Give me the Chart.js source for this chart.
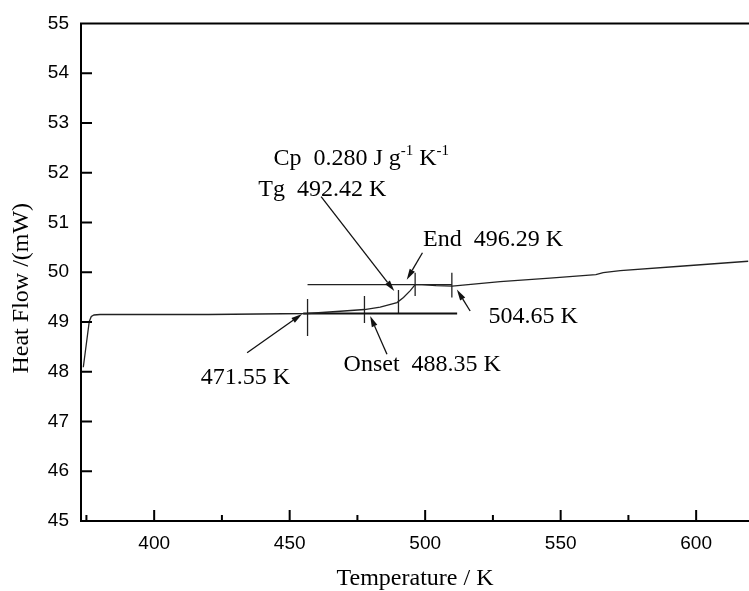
<!DOCTYPE html>
<html>
<head>
<meta charset="utf-8">
<script src="https://cdn.jsdelivr.net/npm/chart.js@4.4.1/dist/chart.umd.min.js"></script>
<style>
  html, body { margin: 0; padding: 0; background: #fff; }
  #wrap { width: 749px; height: 591px; }
</style>
</head>
<body>
<div id="wrap"><canvas id="dsc"></canvas></div>
<script>
// DSC trace, values (K, mW)
const temperature = [373.85, 376.05, 376.8, 377.8, 380, 420, 456.6, 470, 477.6, 483.4, 489.6, 492.0, 494.5, 496.3, 498.8, 504, 510.0, 527.7, 546, 563, 565.7, 572.0, 594.1, 619.2];
const heatFlow    = [48.09, 49.01, 49.11, 49.14, 49.15, 49.15, 49.17, 49.22, 49.25, 49.30, 49.39, 49.49, 49.63, 49.75, 49.75, 49.73, 49.72, 49.81, 49.88, 49.95, 49.99, 50.03, 50.12, 50.22];

const xTicks = [400, 450, 500, 550, 600];
const xMinorTicks = [375, 425, 475, 525, 575];
const yTicks = [45, 46, 47, 48, 49, 50, 51, 52, 53, 54, 55];

// tangent lines
const lowerTangentX = [455.0, 511.8];
const lowerTangentY = [49.17, 49.17];
const upperTangentX = [456.6, 509.9];
const upperTangentY = [49.75, 49.75];

// short vertical markers
const markerX      = [456.6, 477.6, 490.15, 496.3, 509.85];
const markerTop    = [49.46, 49.52, 49.64, 49.99, 49.99];
const markerBottom = [48.72, 48.98, 49.17, 49.52, 49.49];

// text labels (left edge, baseline)
const labelText = ['Tg  492.42 K', 'End  496.29 K', '504.65 K', 'Onset  488.35 K', '471.55 K'];
const labelX    = [438.4, 499.2, 523.4, 469.9, 417.2];
const labelY    = [51.54, 50.52, 48.97, 48.02, 47.75];
const cpLabel   = [['Cp  0.280 J g', false], ['-1', true], [' K', false], ['-1', true]];
const cpX = 444.0, cpY = 52.15;

// arrows, tail -> head
const arrowFromX = [461.6, 499.0, 516.6, 485.9, 434.3];
const arrowFromY = [51.52, 50.39, 49.22, 48.35, 48.38];
const arrowToX   = [488.6, 493.2, 511.7, 479.7, 454.6];
const arrowToY   = [49.62, 49.85, 49.65, 49.12, 49.16];

const SERIF = '"Liberation Serif", "Times New Roman", serif';
const SANS = '"Liberation Sans", Arial, sans-serif';

function seg(xs, ys) {
  return xs.map((x, i) => ({ x: x, y: ys[i] }));
}

const datasets = [
  { data: seg(temperature, heatFlow), borderColor: '#222', borderWidth: 1.3 },
  { data: seg(lowerTangentX, lowerTangentY), borderColor: '#111', borderWidth: 2 },
  { data: seg(upperTangentX, upperTangentY), borderColor: '#222', borderWidth: 1.4 }
];
markerX.forEach((x, i) => {
  datasets.push({ data: [{ x: x, y: markerTop[i] }, { x: x, y: markerBottom[i] }], borderColor: '#222', borderWidth: 1.3 });
});
datasets.forEach(d => { d.pointRadius = 0; d.tension = 0; d.fill = false; });

// axes frame, inward ticks, arrows and labels
const decorations = {
  id: 'decorations',
  afterDatasetsDraw(chart) {
    const ctx = chart.ctx;
    const xs = chart.scales.x, ys = chart.scales.y;
    const a = chart.chartArea;
    ctx.save();
    ctx.strokeStyle = '#000';
    ctx.lineWidth = 2;
    ctx.beginPath();
    ctx.moveTo(a.left, a.top); ctx.lineTo(a.right, a.top);
    ctx.moveTo(a.left, a.top - 1); ctx.lineTo(a.left, a.bottom + 1);
    ctx.moveTo(a.left - 1, a.bottom); ctx.lineTo(a.right, a.bottom);
    yTicks.forEach(v => {
      const y = ys.getPixelForValue(v);
      ctx.moveTo(a.left, y); ctx.lineTo(a.left + 11, y);
    });
    xTicks.forEach(v => {
      const x = xs.getPixelForValue(v);
      ctx.moveTo(x, a.bottom); ctx.lineTo(x, a.bottom - 11);
    });
    xMinorTicks.forEach(v => {
      const x = xs.getPixelForValue(v);
      ctx.moveTo(x, a.bottom); ctx.lineTo(x, a.bottom - 6);
    });
    ctx.stroke();

    // arrows
    ctx.lineWidth = 1.3;
    ctx.strokeStyle = '#111';
    ctx.fillStyle = '#111';
    arrowFromX.forEach((fx, i) => {
      const x1 = xs.getPixelForValue(fx), y1 = ys.getPixelForValue(arrowFromY[i]);
      const x2 = xs.getPixelForValue(arrowToX[i]), y2 = ys.getPixelForValue(arrowToY[i]);
      const ang = Math.atan2(y2 - y1, x2 - x1);
      const len = 11, half = 3;
      const bx = x2 - len * Math.cos(ang), by = y2 - len * Math.sin(ang);
      ctx.beginPath();
      ctx.moveTo(x1, y1); ctx.lineTo(bx, by);
      ctx.stroke();
      ctx.beginPath();
      ctx.moveTo(x2, y2);
      ctx.lineTo(bx + half * Math.sin(ang), by - half * Math.cos(ang));
      ctx.lineTo(bx - half * Math.sin(ang), by + half * Math.cos(ang));
      ctx.closePath();
      ctx.fill();
    });

    // labels
    ctx.fillStyle = '#000';
    ctx.textBaseline = 'alphabetic';
    ctx.textAlign = 'left';
    ctx.font = '24px ' + SERIF;
    labelText.forEach((t, i) => {
      ctx.fillText(t, xs.getPixelForValue(labelX[i]), ys.getPixelForValue(labelY[i]));
    });
    let cx = xs.getPixelForValue(cpX);
    const cy = ys.getPixelForValue(cpY);
    cpLabel.forEach(([t, sup]) => {
      ctx.font = (sup ? '15px ' : '24px ') + SERIF;
      ctx.fillText(t, cx, sup ? cy - 10 : cy);
      cx += ctx.measureText(t).width;
    });

    // y axis title
    ctx.font = '24px ' + SERIF;
    ctx.translate(22, (a.top + a.bottom) / 2 + 16);
    ctx.rotate(-Math.PI / 2);
    ctx.textAlign = 'center';
    ctx.textBaseline = 'middle';
    ctx.fillText('Heat Flow /(mW)', 0, 0);
    ctx.restore();
  }
};

new Chart(document.getElementById('dsc'), {
  type: 'line',
  data: { datasets: datasets },
  plugins: [decorations],
  options: {
    responsive: true,
    maintainAspectRatio: false,
    animation: false,
    layout: { padding: { top: 21, right: 0, left: 0, bottom: 0 } },
    plugins: { legend: { display: false }, tooltip: { enabled: false } },
    scales: {
      x: {
        type: 'linear',
        min: 373,
        max: 619.5,
        afterBuildTicks: s => { s.ticks = xTicks.map(v => ({ value: v })); },
        afterFit: s => { s.height = 70; },
        grid: { display: false, drawTicks: false },
        border: { display: false },
        ticks: { color: '#000', padding: 11, font: { family: SANS, size: 19 } },
        title: { display: true, text: 'Temperature / K', color: '#000', padding: 0, font: { family: SERIF, size: 24, lineHeight: 1 } }
      },
      y: {
        type: 'linear',
        min: 45,
        max: 55,
        afterBuildTicks: s => { s.ticks = yTicks.map(v => ({ value: v })); },
        afterFit: s => { s.width = 81; },
        grid: { display: false, drawTicks: false },
        border: { display: false },
        ticks: { color: '#000', padding: 12, font: { family: SANS, size: 19 } }
      }
    }
  }
});
</script>
</body>
</html>
